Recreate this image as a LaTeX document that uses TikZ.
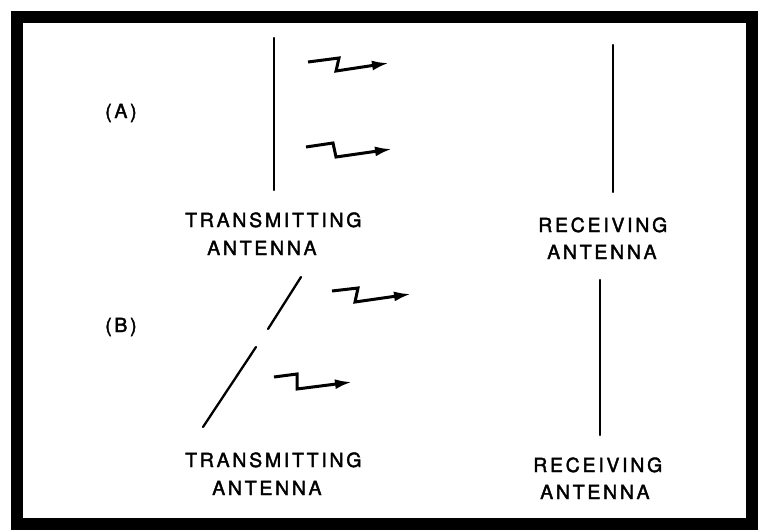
\documentclass[tikz,border=0pt]{standalone}
\usepackage{fontspec}
\setmainfont{TeX Gyre Heros}[LetterSpace=14,FakeBold=2]
\usetikzlibrary{arrows.meta}
\tikzset{
  antenna/.style={line width=2.3pt, line cap=round},
  wave/.style={line width=3pt, line join=miter, -{Latex[length=17pt,width=10pt]}},
  lbl/.style={anchor=base west, inner sep=0pt, font=\fontsize{19.5}{22}\selectfont},
  frame/.style={line width=12pt}
}
\begin{document}
\begin{tikzpicture}[x=1pt,y=-1pt]
\useasboundingbox[fill=white] (0,0) rectangle (762,530);
\draw[frame] (17,17) rectangle (752,524);
% (A)
\node[lbl] (la) at (105,118) {(A)};
\coordinate (ta1) at (274,38); \coordinate (ta2) at (274,190);
\draw[antenna] (ta1) -- (ta2);
\coordinate (ra1) at (613,45); \coordinate (ra2) at (613,192);
\draw[antenna] (ra1) -- (ra2);
\coordinate (w1a) at (308,62); \coordinate (w1b) at (339,58); \coordinate (w1c) at (336,71); \coordinate (w1d) at (389,63);
\draw[wave] (w1a) -- (w1b) -- (w1c) -- (w1d);
\coordinate (w2a) at (306,147); \coordinate (w2b) at (333,143); \coordinate (w2c) at (336,157); \coordinate (w2d) at (392,149);
\draw[wave] (w2a) -- (w2b) -- (w2c) -- (w2d);
\node[lbl] (tA1) at (185,227) {TRANSMITTING};
\node[lbl] (tA2) at (207,255) {ANTENNA};
\node[lbl] (rA1) at (538,232) {RECEIVING};
\node[lbl] (rA2) at (547,259) {ANTENNA};
% (B)
\node[lbl] (lb) at (105,332) {(B)};
\coordinate (tb1) at (301,277); \coordinate (tb2) at (268,329);
\draw[antenna] (tb1) -- (tb2);
\coordinate (tb3) at (256,347); \coordinate (tb4) at (203,427);
\draw[antenna] (tb3) -- (tb4);
\coordinate (rb1) at (600,280); \coordinate (rb2) at (600,435);
\draw[antenna] (rb1) -- (rb2);
\coordinate (w3a) at (332,291); \coordinate (w3b) at (358,288); \coordinate (w3c) at (355,302); \coordinate (w3d) at (411,294);
\draw[wave] (w3a) -- (w3b) -- (w3c) -- (w3d);
\coordinate (w4a) at (274,377); \coordinate (w4b) at (297,374); \coordinate (w4c) at (297,389); \coordinate (w4d) at (352,382);
\draw[wave] (w4a) -- (w4b) -- (w4c) -- (w4d);
\node[lbl] (tB1) at (185,467) {TRANSMITTING};
\node[lbl] (tB2) at (212,495) {ANTENNA};
\node[lbl] (rB1) at (533,472) {RECEIVING};
\node[lbl] (rB2) at (540,499) {ANTENNA};
\end{tikzpicture}
\end{document}
